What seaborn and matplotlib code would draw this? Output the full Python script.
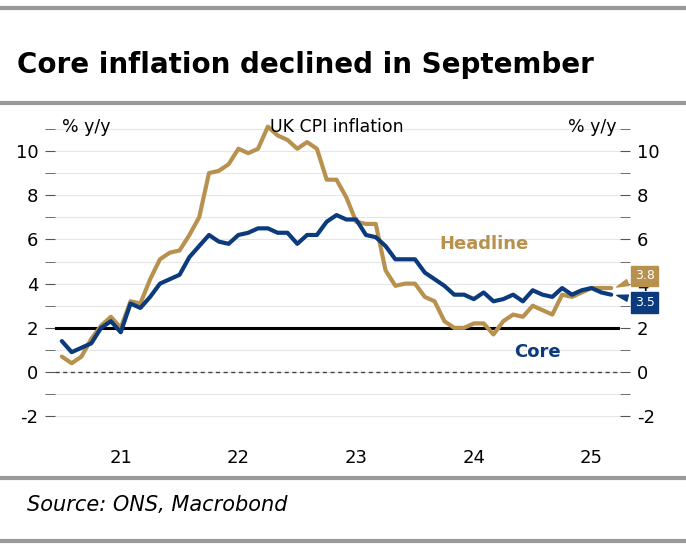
import numpy as np
import pandas as pd
import matplotlib
matplotlib.use("Agg")
import matplotlib.pyplot as plt
import seaborn as sns

# Monthly UK CPI, Jan 2021 - Sep 2025
headline = [0.7, 0.4, 0.7, 1.5, 2.1, 2.5, 2.0, 3.2, 3.1, 4.2, 5.1, 5.4,
            5.5, 6.2, 7.0, 9.0, 9.1, 9.4, 10.1, 9.9, 10.1, 11.1, 10.7, 10.5,
            10.1, 10.4, 10.1, 8.7, 8.7, 7.9, 6.8, 6.7, 6.7, 4.6, 3.9, 4.0,
            4.0, 3.4, 3.2, 2.3, 2.0, 2.0, 2.2, 2.2, 1.7, 2.3, 2.6, 2.5,
            3.0, 2.8, 2.6, 3.5, 3.4, 3.6, 3.8, 3.8, 3.8]
core = [1.4, 0.9, 1.1, 1.3, 2.0, 2.3, 1.8, 3.1, 2.9, 3.4, 4.0, 4.2,
        4.4, 5.2, 5.7, 6.2, 5.9, 5.8, 6.2, 6.3, 6.5, 6.5, 6.3, 6.3,
        5.8, 6.2, 6.2, 6.8, 7.1, 6.9, 6.9, 6.2, 6.1, 5.7, 5.1, 5.1,
        5.1, 4.5, 4.2, 3.9, 3.5, 3.5, 3.3, 3.6, 3.2, 3.3, 3.5, 3.2,
        3.7, 3.5, 3.4, 3.8, 3.5, 3.7, 3.8, 3.6, 3.5]
year_labels = ["21", "22", "23", "24", "25"]

gold = "#B8914F"
navy = "#0B3B7C"

df = pd.DataFrame({"month": np.arange(len(headline)), "Headline": headline, "Core": core})

sns.set_style("white")
plt.rcParams["font.family"] = ["DejaVu Sans"]
plt.rcParams["axes.unicode_minus"] = False
plt.rcParams["text.color"] = "black"
plt.rcParams["ytick.labelcolor"] = "black"
plt.rcParams["xtick.labelcolor"] = "black"
fig = plt.figure(figsize=(6.86, 5.56), dpi=100)
ax = fig.add_axes([55 / 686, 1 - 430 / 556, 565 / 686, 310 / 556])

for y in range(-2, 12):
    ax.axhline(y, color="#e6e6e6", lw=0.8, zorder=0)
ax.axhline(2, color="black", lw=2.2, zorder=1)
ax.axhline(0, color="#444444", lw=1, ls=(0, (3, 2.5)), zorder=1)

sns.lineplot(data=df, x="month", y="Headline", color=gold, lw=3, ax=ax, zorder=3)
sns.lineplot(data=df, x="month", y="Core", color=navy, lw=3, ax=ax, zorder=3)

ax.set_xlim(-0.7, 56.9)
ax.set_ylim(-2.62, 11.4)
for s in ax.spines.values():
    s.set_visible(False)
ax.set_xlabel("")
ax.set_ylabel("")
ax.set_xticks([0, 12, 24, 36, 48])
ax.set_xticks([6, 18, 30, 42, 54], minor=True)
ax.set_xticklabels([])
ax.set_xticklabels(year_labels, minor=True, fontsize=13)
ax.tick_params(axis="x", which="major", length=6, width=1.2, direction="out", color="#333")
ax.tick_params(axis="x", which="minor", length=0, pad=14)

ax.set_yticks(range(-2, 11, 2))
ax.set_yticks(range(-2, 12), minor=True)
ax.tick_params(axis="y", which="both", length=7, color="#555", left=True, right=True,
               labelleft=True, labelright=True, labelsize=13, pad=5)
ax.tick_params(axis="y", which="minor", length=7)

ax.text(0.005, 11.1, "% y/y", fontsize=12.5, ha="left", va="center")
ax.text(56.5, 11.1, "% y/y", fontsize=12.5, ha="right", va="center")
ax.text(28, 11.1, "UK CPI inflation", fontsize=12.5, ha="center", va="center")
ax.text(43, 5.8, "Headline", color=gold, fontsize=13, fontweight="bold", ha="center", va="center")
ax.text(48.5, 0.9, "Core", color=navy, fontsize=13, fontweight="bold", ha="center", va="center")

# end-value tags
for val, yy, col in [(headline[-1], 4.35, gold), (core[-1], 3.15, navy)]:
    ax.annotate(f"{val:.1f}", xy=(56.3, val), xytext=(59.4, yy), color="white", fontsize=9,
                ha="center", va="center", annotation_clip=False, zorder=5,
                bbox=dict(boxstyle="square,pad=0.3", fc=col, ec=col),
                arrowprops=dict(arrowstyle="wedge,tail_width=0.5", fc=col, ec=col))

fig.text(0.025, 1 - 65 / 556, "Core inflation declined in September", fontsize=20,
         fontweight="bold", va="center", color="black")
fig.text(0.04, 1 - 505 / 556, "Source: ONS, Macrobond", fontsize=15, style="italic", va="center")
for yp in [8, 103, 478, 541]:
    fig.add_artist(plt.Line2D([0, 1], [1 - yp / 556] * 2, color="#999999", lw=3))

fig.savefig("out.png", dpi=100)
